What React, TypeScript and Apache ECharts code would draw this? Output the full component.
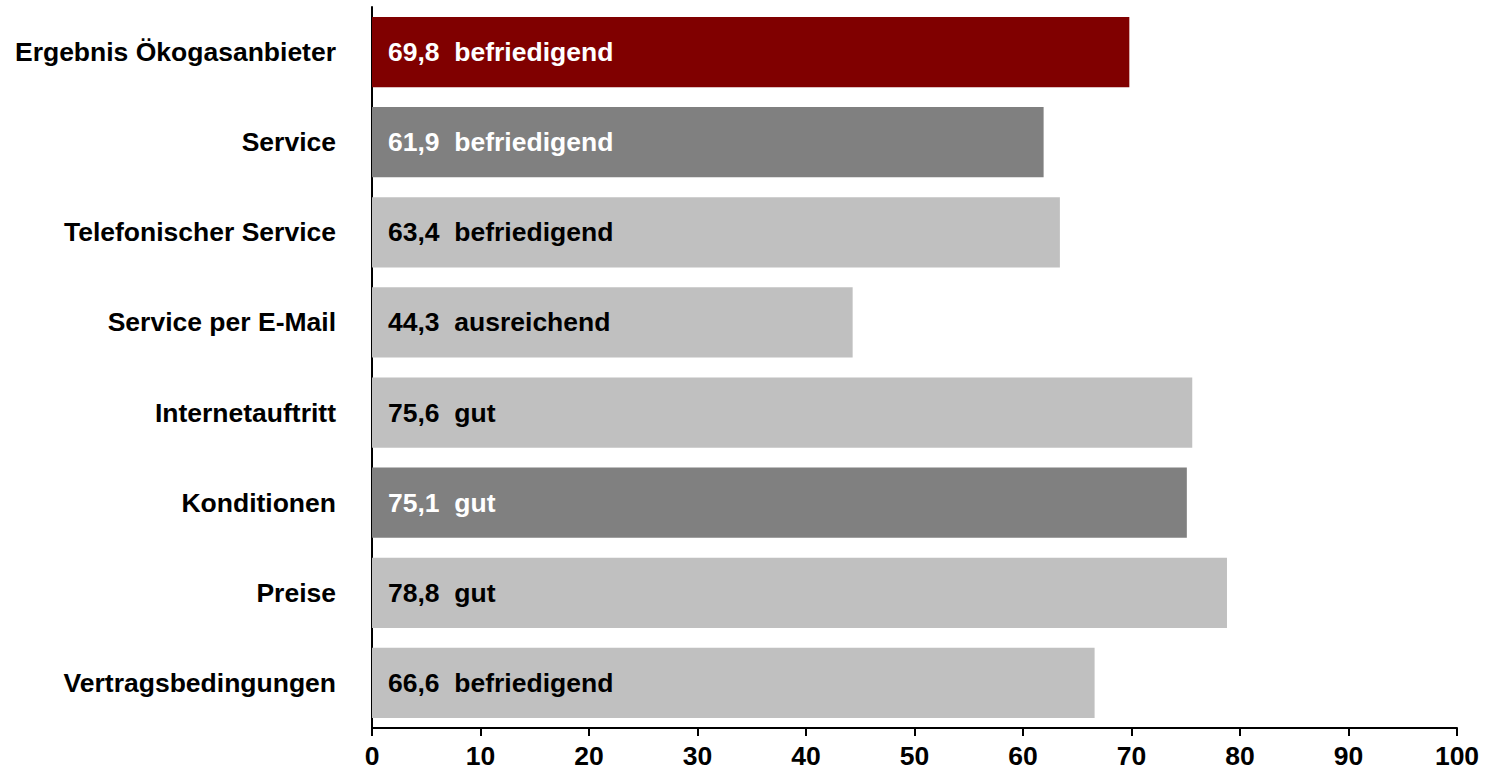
import React, { useEffect, useRef } from "react";
import * as echarts from "echarts";

const categories = [
  "Ergebnis Ökogasanbieter",
  "Service",
  "Telefonischer Service",
  "Service per E-Mail",
  "Internetauftritt",
  "Konditionen",
  "Preise",
  "Vertragsbedingungen",
];
const values = [69.8, 61.9, 63.4, 44.3, 75.6, 75.1, 78.8, 66.6];
const grades = [
  "befriedigend",
  "befriedigend",
  "befriedigend",
  "ausreichend",
  "gut",
  "gut",
  "gut",
  "befriedigend",
];
const barColors = ["#800000", "#808080", "#C0C0C0", "#C0C0C0", "#C0C0C0", "#808080", "#C0C0C0", "#C0C0C0"];
const labelColors = ["#FFFFFF", "#FFFFFF", "#000000", "#000000", "#000000", "#FFFFFF", "#000000", "#000000"];

export default function App() {
  const ref = useRef<HTMLDivElement>(null);
  useEffect(() => {
    if (!ref.current) return;
    const chart = echarts.init(ref.current, null, { renderer: "svg" });
    const font = "'Liberation Sans', Arial, sans-serif";
    chart.setOption({
      animation: false,
      backgroundColor: "#FFFFFF",
      grid: { left: 372, right: 32, top: 7, bottom: 43, containLabel: false },
      xAxis: {
        type: "value",
        min: 0,
        max: 100,
        interval: 10,
        axisLine: { show: true, lineStyle: { color: "#000", width: 2 } },
        axisTick: { show: true, length: 8, lineStyle: { color: "#000", width: 2 } },
        axisLabel: { color: "#000", fontFamily: font, fontWeight: "bold", fontSize: 26.5, margin: 14 },
        splitLine: { show: false },
      },
      yAxis: {
        type: "category",
        inverse: true,
        data: categories,
        axisLine: { show: true, lineStyle: { color: "#000", width: 2 } },
        axisTick: { show: false },
        axisLabel: { color: "#000", fontFamily: font, fontWeight: "bold", fontSize: 26.5, margin: 36 },
      },
      series: [
        {
          type: "bar",
          barCategoryGap: "22%",
          data: values.map((v, i) => ({
            value: v,
            itemStyle: { color: barColors[i] },
            label: {
              show: true,
              position: "insideLeft",
              distance: 16,
              color: labelColors[i],
              fontFamily: font,
              fontWeight: "bold",
              fontSize: 26.5,
              formatter: () => `${v.toFixed(1).replace(".", ",")}  ${grades[i]}`,
            },
          })),
        },
      ],
    });
    return () => chart.dispose();
  }, []);
  return (
    <div
      ref={ref}
      style={{ position: "fixed", left: 0, top: 0, width: 1489, height: 771 }}
    />
  );
}
